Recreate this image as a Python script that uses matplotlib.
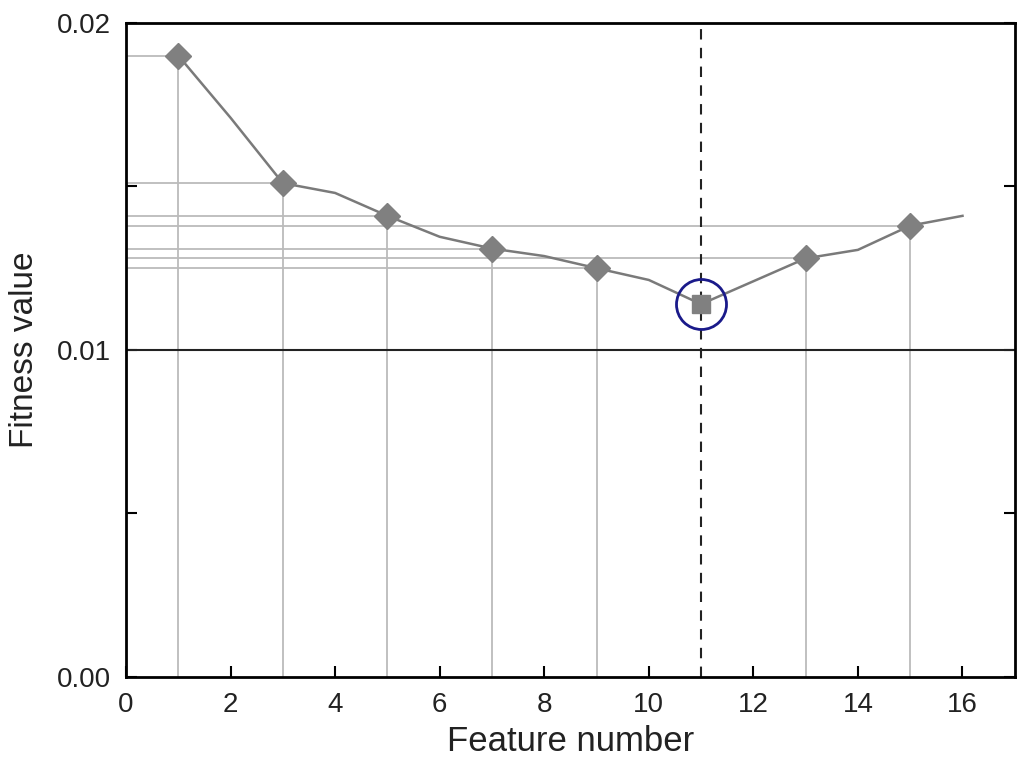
import numpy as np
import matplotlib.pyplot as plt

plt.rcParams['font.family'] = ['Liberation Sans', 'DejaVu Sans']

# data
features = np.arange(1, 17)
fitness = [0.0190, 0.0171, 0.0151, 0.0148, 0.0141, 0.01346, 0.0131, 0.01287,
           0.0125, 0.01214, 0.0114, 0.0121, 0.0128, 0.01306, 0.0138, 0.0141]
marked = [1, 3, 5, 7, 9, 13, 15]
best = 11
threshold = 0.01

fig = plt.figure(figsize=(10.24, 7.62), dpi=100)
ax = fig.add_axes([0.123, 0.1115, 0.868, 0.8585])

vals = dict(zip(features, fitness))

# reference lines for the marked points
for f in marked:
    ax.plot([0, f], [vals[f], vals[f]], color='#bbbbbb', lw=1.3, zorder=1)
    ax.plot([f, f], [0, vals[f]], color='#bbbbbb', lw=1.3, zorder=1)

ax.axhline(threshold, color='#222222', lw=1.5, zorder=2)
ax.axvline(best, color='#222222', lw=1.5, ls=(0, (5, 4)), zorder=2)

ax.plot(features, fitness, color='#7a7a7a', lw=1.8, zorder=3)
ax.plot(marked, [vals[f] for f in marked], ls='none', marker='D',
        ms=13, color='#808080', zorder=4)
ax.plot([best], [vals[best]], ls='none', marker='s', ms=13,
        color='#808080', zorder=4)
ax.plot([best], [vals[best]], ls='none', marker='o', ms=36,
        mfc='none', mec='#1a1a8a', mew=2, zorder=5)

ax.set_xlim(0, 17)
ax.set_ylim(0, 0.02)
ax.set_xticks(range(0, 17, 2))
ax.set_yticks([0, 0.005, 0.01, 0.015, 0.02])
ax.set_yticklabels(['0.00', '', '0.01', '', '0.02'])
ax.tick_params(direction='in', length=8, width=1.5, labelsize=20,
               right=True, top=False, pad=11, labelcolor='#222222')
for s in ax.spines.values():
    s.set_linewidth(2)

ax.set_xlabel('Feature number', fontsize=25, labelpad=5, color='#222222')
ax.set_ylabel('Fitness value', fontsize=24, labelpad=12, color='#222222')

fig.savefig('out.png', dpi=100)
